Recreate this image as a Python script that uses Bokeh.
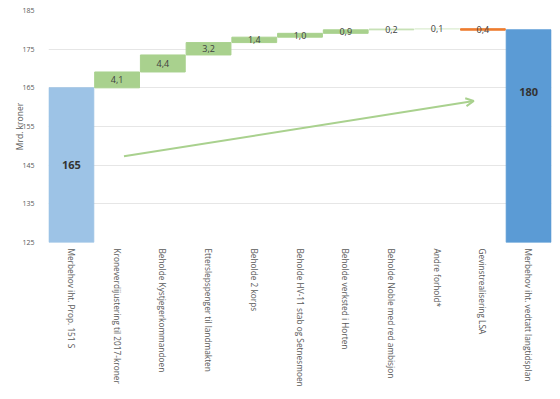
import math
from bokeh.plotting import figure
from bokeh.models import ColumnDataSource, FactorRange, Arrow, OpenHead
from bokeh.core.properties import value
from bokeh.embed import file_html
from bokeh.resources import INLINE

categories = [
    "Merbehov iht. Prop. 151 S",
    "Kroneverdijustering til 2017-kroner",
    "Beholde Kystjegerkommandoen",
    "Etterslepspenger til landmakten",
    "Beholde 2 korps",
    "Beholde HV-11 stab og Setnesmoen",
    "Beholde verksted i Horten",
    "Beholde Noble med red ambisjon",
    "Andre forhold*",
    "Gevinstrealisering LSA",
    "Merbehov iht. vedtatt langtidsplan",
]
start_total = 165.0
deltas = [4.1, 4.4, 3.2, 1.4, 1.0, 0.9, 0.2, 0.1, -0.4]
end_total = 180.0
delta_labels = ["4,1", "4,4", "3,2", "1,4", "1,0", "0,9", "0,2", "0,1", "0,4"]
total_labels = ["165", "180"]
total_label_y = [145.0, 163.8]
y_ticks = [125, 135, 145, 155, 165, 175, 185]
arrow_x = [1.65, 9.3]
arrow_y = [147.3, 161.6]

FONT = "Open Sans"
BASE = 125

# waterfall geometry
bottoms, tops, colors = [], [], []
bottoms.append(BASE); tops.append(start_total); colors.append("#9DC3E6")
run = start_total
for d in deltas:
    nb = run + d
    bottoms.append(min(run, nb)); tops.append(max(run, nb))
    if d < 0:
        colors.append("#ED7D31")
    elif d < 0.15:
        colors.append("#E2F0D9")
    elif d < 0.5:
        colors.append("#C5E0B4")
    else:
        colors.append("#A9D18E")
    run = nb
bottoms.append(BASE); tops.append(end_total); colors.append("#5B9BD5")

src = ColumnDataSource(dict(x=categories, bottom=bottoms, top=tops, color=colors))
mid = [(b + t) / 2 for b, t in zip(bottoms[1:-1], tops[1:-1])]
lab_src = ColumnDataSource(dict(x=categories[1:-1], y=mid, t=delta_labels))
tot_src = ColumnDataSource(dict(x=[categories[0], categories[-1]], y=total_label_y, t=total_labels))

p = figure(width=560, height=399, x_range=FactorRange(factors=categories, range_padding=0),
           y_range=(125, 185), output_backend="svg", toolbar_location=None,
           min_border_left=48, min_border_right=9, min_border_top=10, min_border_bottom=157)
p.outline_line_color = None

p.vbar(x="x", bottom="bottom", top="top", width=0.98, color="color", source=src)

p.text(x="x", y="y", text="t", source=lab_src, text_align="center", text_baseline="middle",
       text_font=value(FONT), text_font_size="9px", text_color="#404040")
p.text(x="x", y="y", text="t", source=tot_src, text_align="center", text_baseline="middle",
       text_font=value(FONT), text_font_size="11px", text_font_style="bold", text_color="#333333")

p.add_layout(Arrow(end=OpenHead(line_color="#A9D18E", line_width=2, size=8),
                   x_start=arrow_x[0], y_start=arrow_y[0], x_end=arrow_x[1], y_end=arrow_y[1],
                   line_color="#A9D18E", line_width=2))

p.yaxis.ticker = y_ticks
p.yaxis.axis_label = "Mrd. kroner"
p.yaxis.axis_label_text_font = FONT
p.yaxis.axis_label_text_font_style = "normal"
p.yaxis.axis_label_text_font_size = "8.5px"
p.yaxis.axis_label_text_color = "#595959"
p.yaxis.axis_label_standoff = -6
p.yaxis.major_label_text_font = FONT
p.yaxis.major_label_text_font_size = "7px"
p.yaxis.major_label_text_color = "#595959"
p.yaxis.major_label_standoff = 8

for ax in [p.xaxis, p.yaxis]:
    ax.axis_line_color = None
    ax.major_tick_line_color = None
    ax.minor_tick_line_color = None

p.xaxis.major_label_orientation = -math.pi / 2
p.xaxis.major_label_text_font = FONT
p.xaxis.major_label_text_font_size = "8.3px"
p.xaxis.major_label_text_color = "#595959"
p.xaxis.major_label_standoff = 0

p.xgrid.grid_line_color = None
p.ygrid.grid_line_color = "#E6E6E6"
p.ygrid.grid_line_width = 1

open("out.html", "w").write(file_html(p, INLINE))
